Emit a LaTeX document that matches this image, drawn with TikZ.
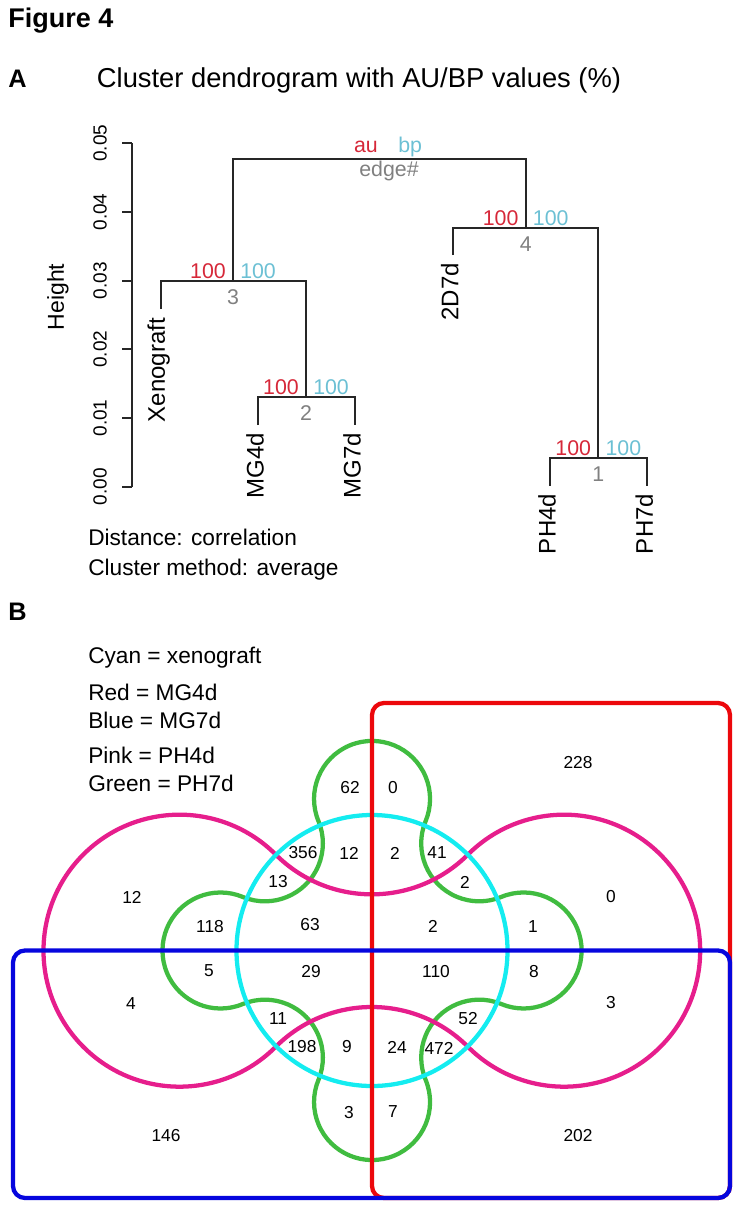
\documentclass[tikz,border=0pt]{standalone}
\usepackage{fontspec}
\setmainfont{Liberation Sans}
\usetikzlibrary{calc}

\definecolor{aured}{RGB}{214,40,57}
\definecolor{bpcyan}{RGB}{108,192,212}
\definecolor{edgegray}{RGB}{128,128,128}
\definecolor{vred}{RGB}{236,8,12}
\definecolor{vblue}{RGB}{6,6,222}
\definecolor{vcyan}{RGB}{20,236,240}
\definecolor{vpink}{RGB}{230,30,140}
\definecolor{vgreen}{RGB}{64,188,64}

\tikzset{
  branch/.style={draw=black!85, line width=1.5pt},
  leaf/.style={rotate=90, anchor=east, inner sep=0pt, font=\fontsize{18pt}{20pt}\selectfont},
  ticklbl/.style={rotate=90, inner sep=0pt, font=\fontsize{14.25pt}{16pt}\selectfont},
  au/.style={text=aured, inner sep=0pt, font=\fontsize{16pt}{18pt}\selectfont},
  bp/.style={text=bpcyan, inner sep=0pt, font=\fontsize{16pt}{18pt}\selectfont},
  edgeno/.style={text=edgegray, inner sep=0pt, font=\fontsize{16pt}{18pt}\selectfont},
  txt/.style={inner sep=0pt, anchor=base west, font=\fontsize{17pt}{20pt}\selectfont},
  panel/.style={inner sep=0pt, anchor=base west, font=\fontsize{19pt}{21pt}\selectfont\bfseries},
  num/.style={inner sep=0pt, font=\fontsize{13pt}{15pt}\selectfont},
  setline/.style={line width=3.2pt},
}

\begin{document}
\begin{tikzpicture}[x=0.75pt,y=0.75pt,yscale=-1,xscale=1]
\useasboundingbox (0,0) rectangle (741,1209);

% Headings
\node[panel, font=\fontsize{20.25pt}{22pt}\selectfont\bfseries] (fig) at (8,28) {Figure 4};
\node[panel] (pa) at (8,88) {A};
\node[txt, font=\fontsize{20.5pt}{22pt}\selectfont] (title) at (96.7,88) {Cluster dendrogram with AU/BP values (\%)};
\node[panel] (pb) at (8,620) {B};

%Axis
\coordinate (ybot) at (132,486.7);
\coordinate (ytop) at (132,143.3);
\draw[branch] (ybot) -- (ytop);
\foreach \k/\v in {0/0.00,1/0.01,2/0.02,3/0.03,4/0.04,5/0.05}{
  \coordinate (tk\k) at (132,{486.7-68.68*\k});
  \draw[branch] (tk\k) -- ++(-10,0);
  \node[ticklbl] (tl\k) at ($(tk\k)+(-32,0)$) {\v};
}
\node[ticklbl, font=\fontsize{17.25pt}{19pt}\selectfont] (ylab) at (58,297) {Height};

%Leaves and merges
\coordinate (xeno) at (160.7,309);
\coordinate (mg4) at (258,425);
\coordinate (mg7) at (355,425);
\coordinate (d2d7) at (452.7,255);
\coordinate (ph4) at (550,485.7);
\coordinate (ph7) at (647.3,485.7);
\coordinate (n1) at (598.3,457.7);
\coordinate (n2) at (306,397.3);
\coordinate (n3) at (233,281);
\coordinate (n4) at (525.7,227.7);
\coordinate (n5) at (379.3,158.7);

\draw[branch] (mg4) |- (n2) -| (mg7);
\draw[branch] (xeno) |- (n3) -| (n2);
\draw[branch] (ph4) |- (n1) -| (ph7);
\draw[branch] (d2d7) |- (n4) -| (n1);
\draw[branch] (n3) |- (n5) -| (n4);

% Leaf labels
\node[leaf] (lxeno) at ($(xeno)+(-2,9)$) {Xenograft};
\node[leaf] (lmg4) at ($(mg4)+(-3,8)$) {MG4d};
\node[leaf] (lmg7) at ($(mg7)+(-3,8)$) {MG7d};
\node[leaf] (ld2d7) at ($(d2d7)+(-3,8)$) {2D7d};
\node[leaf] (lph4) at ($(ph4)+(-3,8)$) {PH4d};
\node[leaf] (lph7) at ($(ph7)+(-3,8)$) {PH7d};

% AU / BP values
\foreach \n in {1,...,4}{
  \node[au, anchor=south east] (au\n) at ($(n\n)+(-7,-2)$) {100};
  \node[bp, anchor=south west] (bp\n) at ($(n\n)+(7,-2)$) {100};
  \node[edgeno] (e\n) at ($(n\n)+(0,16)$) {\n};
}
\node[au, anchor=base east] (aukey) at (378,152) {au};
\node[bp, anchor=base west] (bpkey) at (398,152) {bp};
\node[edgeno, anchor=base] (edgekey) at (389,176) {edge\#};

% Method notes
\node[txt] (dist) at (88,545) {Distance: correlation};
\node[txt] (meth) at (88,575) {Cluster method: average};

% Legend
\node[txt] (lgc) at (88,663.3) {Cyan = xenograft};
\node[txt] (lgr) at (88,700) {Red = MG4d};
\node[txt] (lgb) at (88,728.3) {Blue = MG7d};
\node[txt] (lgp) at (88,763.3) {Pink = PH4d};
\node[txt] (lgg) at (88,791) {Green = PH7d};

%Venn sets
\coordinate (o) at (372,950.5);
% green: PH7d
\draw[setline, vgreen] ($(o)+(129.4,-53.6)$)
  arc[start angle=-112.5, end angle=112.5, radius=58]
  arc[start angle=-67.5, end angle=-202.5, radius=58]
  arc[start angle=-22.5, end angle=202.5, radius=58]
  arc[start angle=22.5, end angle=-112.5, radius=58]
  arc[start angle=67.5, end angle=292.5, radius=58]
  arc[start angle=112.5, end angle=-22.5, radius=58]
  arc[start angle=157.5, end angle=382.5, radius=58]
  arc[start angle=202.5, end angle=67.5, radius=58] -- cycle;
% pink: PH4d
\draw[setline, vpink] ($(o)+(96,-96)$)
  arc[start angle=-135, end angle=135, radius=136]
  arc[start angle=-45, end angle=-135, radius=136]
  arc[start angle=45, end angle=315, radius=136]
  arc[start angle=135, end angle=45, radius=136] -- cycle;
% cyan: xenograft
\draw[setline, vcyan] (o) circle[radius=135.5];
% red: MG4d
\draw[setline, vred, rounded corners=9pt] (372,703) rectangle (730,1198);
% blue: MG7d
\draw[setline, vblue, rounded corners=9pt] (13,950.5) rectangle (730,1198);

% Region counts
\foreach \x/\y/\t [count=\k] in {350/788/62, 393/788/0, 303/853/356, 349/853/12,
  395/853/2, 437/853/41, 278/882/13, 465/882/2, 210/927/118, 310/925/63,
  433/926/2, 533/927/1, 209/971/5, 311/972/29, 436/972/110, 534/972/8,
  278/1019/11, 468/1019/52, 302/1047/198, 347/1047/9, 397/1047/24, 439/1048/472,
  132/897/12, 131/1004/4, 611/897/0, 611/1003/3, 349/1113/3, 393/1112/7,
  166/1136/146, 578/1136/202, 578/763/228}{
  \node[num] (v\k) at (\x,\y) {\t};
}

\end{tikzpicture}
\end{document}
